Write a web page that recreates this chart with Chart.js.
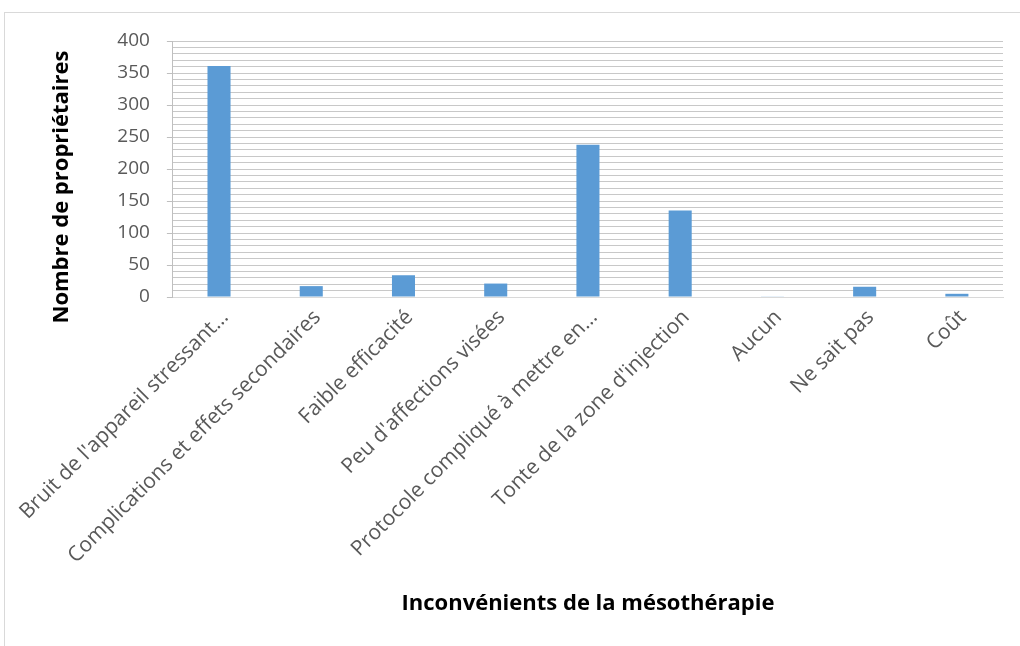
<!DOCTYPE html>
<html>
<head>
<meta charset="utf-8">
<script src="https://cdn.jsdelivr.net/npm/chart.js@4.4.1/dist/chart.umd.min.js"></script>
<style>
  html, body { margin: 0; padding: 0; background: #fff; overflow: hidden; width: 1020px; height: 646px; }
  #frame { position: absolute; left: 4px; top: 12px; width: 1100px; height: 700px; border: 1px solid #d9d9d9; }
  #c { position: absolute; left: 0; top: 0; }
</style>
</head>
<body>
<div id="frame"></div>
<canvas id="c" width="1020" height="646"></canvas>
<script>
const categories = [
  "Bruit de l'appareil stressant…",
  "Complications et effets secondaires",
  "Faible efficacité",
  "Peu d'affections visées",
  "Protocole compliqué à mettre en…",
  "Tonte de la zone d'injection",
  "Aucun",
  "Ne sait pas",
  "Coût"
];
const values = [361, 17, 34, 21, 238, 135, 1, 16, 5];
const yTickLabels = [0, 50, 100, 150, 200, 250, 300, 350, 400];
const xTitle = "Inconvénients de la mésothérapie";
const yTitle = "Nombre de propriétaires";

const FONT = "'Open Sans', 'DejaVu Sans', sans-serif";
Chart.defaults.font.family = FONT;

const yTitlePlugin = {
  id: 'yTitlePlugin',
  afterDraw(chart) {
    const ctx = chart.ctx;
    ctx.save();
    ctx.translate(62, 187);
    ctx.rotate(-Math.PI / 2);
    ctx.font = "bold 22px " + FONT;
    ctx.fillStyle = '#000';
    ctx.textAlign = 'center';
    ctx.textBaseline = 'middle';
    ctx.fillText(yTitle, 0, 0);
    ctx.restore();
  }
};

new Chart(document.getElementById('c'), {
  type: 'bar',
  data: {
    labels: categories,
    datasets: [{
      data: values,
      backgroundColor: '#5B9BD5',
      borderWidth: 0,
      barPercentage: 0.25,
      categoryPercentage: 1.0
    }]
  },
  plugins: [yTitlePlugin],
  options: {
    responsive: false,
    animation: false,
    layout: { padding: { left: 50, top: 41, right: 17, bottom: 29 } },
    plugins: { legend: { display: false }, tooltip: { enabled: false } },
    scales: {
      x: {
        grid: { display: false, drawTicks: false },
        border: { color: '#d9d9d9' },
        ticks: {
          color: '#595959',
          font: { size: 21 },
          minRotation: 45,
          maxRotation: 45,
          autoSkip: false,
          padding: 8,
          labelOffset: 6
        },
        title: { display: true, text: xTitle, color: '#000', font: { size: 22, weight: 'bold' }, padding: 0 },
        afterFit: (s) => { s.height = 646 - 29 - 297; }
      },
      y: {
        min: 0,
        max: 400,
        grid: {
          color: '#c8c8c8',
          lineWidth: 1,
          tickLength: 6,
          tickColor: (ctx) => (ctx.tick && yTickLabels.includes(ctx.tick.value)) ? '#bfbfbf' : 'rgba(0,0,0,0)'
        },
        border: { color: '#bfbfbf' },
        ticks: {
          stepSize: 10,
          autoSkip: false,
          color: '#595959',
          font: { size: 19 },
          padding: 17,
          callback: (v) => yTickLabels.includes(v) ? String(v) : ''
        },
        title: { display: false },
        afterFit: (s) => { s.width = 171 - 50; }
      }
    }
  }
});
</script>
</body>
</html>
